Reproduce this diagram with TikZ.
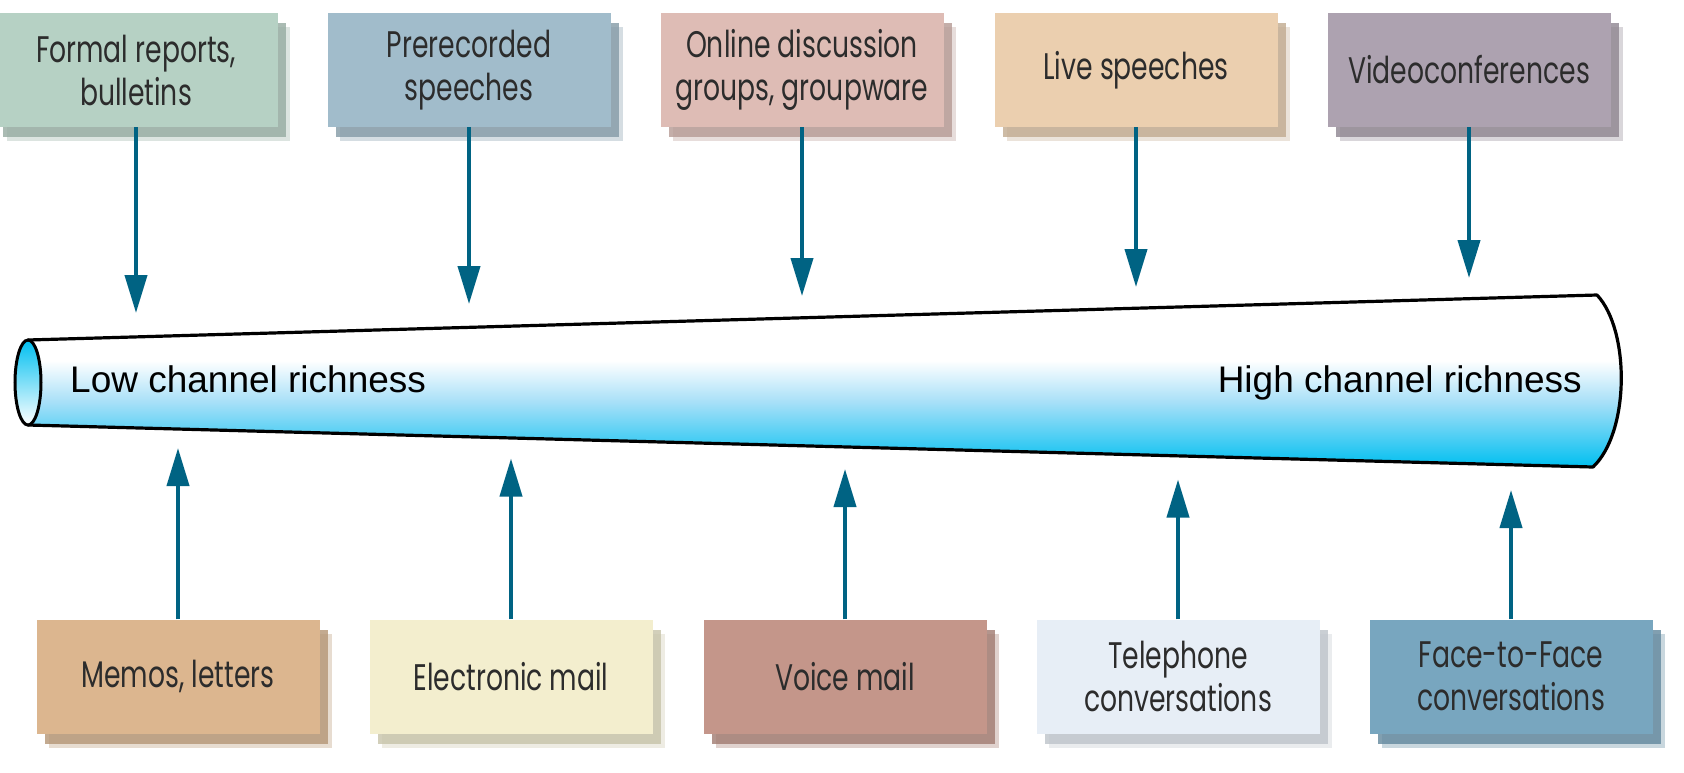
\documentclass[tikz,border=0pt]{standalone}
\usepackage{fontspec}
\setmainfont{Liberation Sans}
\newfontfamily\chanfont[FakeStretch=0.72]{Poppins}
\usepackage{tikz}
\usetikzlibrary{arrows.meta,shadows}
\definecolor{ink}{HTML}{2C2C2C}
\definecolor{feedC}{HTML}{006383}
\definecolor{tubeC}{HTML}{00BFF0}
\definecolor{tubeL}{HTML}{A8E0F8}
\definecolor{formalC}{HTML}{B6D1C4}
\definecolor{prerecC}{HTML}{A1BCCB}
\definecolor{onlineC}{HTML}{DEBCB5}
\definecolor{liveC}{HTML}{EBCFAF}
\definecolor{videoC}{HTML}{ADA2B0}
\definecolor{memosC}{HTML}{DCB68F}
\definecolor{emailC}{HTML}{F3EECE}
\definecolor{voiceC}{HTML}{C4968A}
\definecolor{phoneC}{HTML}{E7EEF6}
\definecolor{faceC}{HTML}{78A6BF}
\pgfdeclareverticalshading{tubefill}{100bp}{color(0bp)=(tubeC); color(25bp)=(tubeC);
  color(44bp)=(tubeL); color(56bp)=(white); color(100bp)=(white)}

\begin{document}
\begin{tikzpicture}[
  x=1pt,y=-1pt,
  chanbox/.style={fill=#1,text=ink,font=\chanfont\fontsize{37}{43}\selectfont,
              minimum width=283pt,minimum height=114pt,inner sep=0pt,align=center,
              general shadow={shadow xshift=12pt,shadow yshift=-14pt,fill=#1!85!black,opacity=0.35},
              general shadow={shadow xshift=8pt,shadow yshift=-10pt,fill=#1!82!black,opacity=0.8}},
  feed/.style={draw=feedC,line width=4pt,-{Triangle[length=38pt,width=22pt]}},
  tube/.style={draw=black,line width=3.2pt,line join=round,shade,shading=tubefill},
  richness/.style={font=\fontsize{37}{44}\selectfont,inner sep=0pt}
]
\useasboundingbox[fill=white] (0,0) rectangle (1684,772);

% The channel
\draw[tube] (28,340) -- (1597,295) .. controls (1630,330) and (1630,432) .. (1593,467)
  -- (28,425) -- cycle;
\draw[line width=3pt,top color=tubeC,bottom color=white] (28,382.5) ellipse [x radius=13pt,y radius=42.5pt];
\node[richness,anchor=base west] (low)  at (70,392)   {Low channel richness};
\node[richness,anchor=base east] (high) at (1582,392) {High channel richness};

% Media above the channel
\node[chanbox=formalC] (formal) at (136,70)  {Formal reports,\\bulletins};
\node[chanbox=prerecC] (prerec) at (469,70)  {Prerecorded\\speeches};
\node[chanbox=onlineC] (online) at (802,70)  {Online discussion\\groups, groupware};
\node[chanbox=liveC]   (live)   at (1136,70) {Live speeches};
\node[chanbox=videoC]  (video)  at (1469,70) {Videoconferences};

% Media below the channel
\node[chanbox=memosC] (memos) at (178,676.5)  {Memos, letters};
\node[chanbox=emailC] (email) at (511,676.5)  {Electronic mail};
\node[chanbox=voiceC] (voice) at (845,676.5)  {Voice mail};
\node[chanbox=phoneC] (phone) at (1178,676.5) {Telephone\\conversations};
\node[chanbox=faceC]  (face)  at (1511,676.5) {Face-to-Face\\conversations};

% Arrow ends at the channel
\coordinate (t1) at (136,313);  \coordinate (t2) at (469,304);
\coordinate (t3) at (802,296);  \coordinate (t4) at (1136,287);
\coordinate (t5) at (1469,278);
\coordinate (b1) at (178,448);  \coordinate (b2) at (511,458.5);
\coordinate (b3) at (845,469);  \coordinate (b4) at (1178,479.5);
\coordinate (b5) at (1511,490);

% Arrows
\draw[feed] (formal) -- (t1);
\draw[feed] (prerec) -- (t2);
\draw[feed] (online) -- (t3);
\draw[feed] (live)   -- (t4);
\draw[feed] (video)  -- (t5);
\draw[feed] (memos) -- (b1);
\draw[feed] (email) -- (b2);
\draw[feed] (voice) -- (b3);
\draw[feed] (phone) -- (b4);
\draw[feed] (face)  -- (b5);
\end{tikzpicture}
\end{document}
